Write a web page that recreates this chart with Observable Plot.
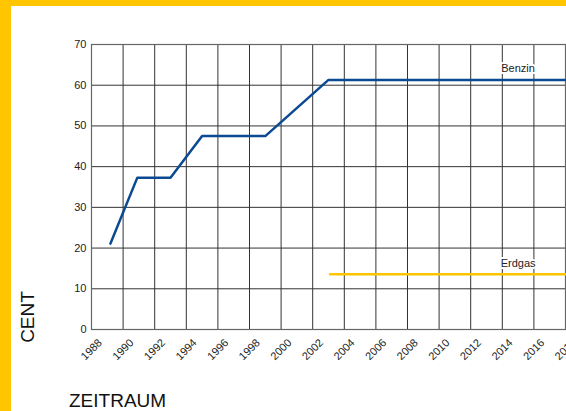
<!DOCTYPE html>
<html>
<head>
<meta charset="utf-8">
<script src="https://cdn.jsdelivr.net/npm/d3@7"></script>
<script src="https://cdn.jsdelivr.net/npm/@observablehq/plot@0.6"></script>
<style>
  html, body { margin: 0; padding: 0; background: #fff; }
  #wrap { position: relative; width: 566px; height: 411px; overflow: hidden; font-family: "Liberation Sans", Arial, sans-serif; }
  #top { position: absolute; left: 0; top: 0; width: 566px; height: 6px; background: #FFC600; }
  #left { position: absolute; left: 0; top: 0; width: 11px; height: 411px; background: #FFC600; }
  #chart { position: absolute; left: 0; top: 0; }
  #ylab { position: absolute; left: 28px; top: 317px; transform: translate(-50%, -50%) rotate(-90deg); font-size: 19px; color: #111; white-space: nowrap; }
  #xlab { position: absolute; left: 69px; top: 391px; font-size: 19px; color: #111; white-space: nowrap; line-height: 20px; }
</style>
</head>
<body>
<div id="wrap">
  <div id="chart"></div>
  <div id="top"></div>
  <div id="left"></div>
  <div id="ylab">CENT</div>
  <div id="xlab">ZEITRAUM</div>
</div>
<script>
// Data
const benzinYears = [1989.2, 1990.9, 1993.0, 1995.0, 1999.0, 2003.0, 2018.0];
const benzinCent  = [21.1, 37.3, 37.3, 47.5, 47.5, 61.3, 61.3];
const erdgasYears = [2003.1, 2018.0];
const erdgasCent  = [13.6, 13.6];
const xTickYears  = [1988, 1990, 1992, 1994, 1996, 1998, 2000, 2002, 2004, 2006, 2008, 2010, 2012, 2014, 2016, 2018];
const yTickValues = [0, 10, 20, 30, 40, 50, 60, 70];
const seriesNames = ["Benzin", "Erdgas"];
const labelYears  = [2015, 2015];
const labelValues = [61.3, 13.6];

const benzin = benzinYears.map((x, i) => ({x, y: benzinCent[i]}));
const erdgas = erdgasYears.map((x, i) => ({x, y: erdgasCent[i]}));
const labels = seriesNames.map((name, i) => ({name, x: labelYears[i], y: labelValues[i]}));

const chart = Plot.plot({
  width: 566,
  height: 411,
  marginLeft: 91,
  marginRight: 1,
  marginTop: 44,
  marginBottom: 82,
  style: { fontFamily: "'Liberation Sans', Arial, sans-serif", fontSize: "11px", color: "#222", background: "transparent" },
  x: { domain: [1988, 2018], ticks: xTickYears, tickFormat: d => String(d) },
  y: { domain: [0, 70], ticks: yTickValues },
  marks: [
    Plot.ruleX(xTickYears, { stroke: "#333", strokeWidth: 1 }),
    Plot.ruleY(yTickValues, { stroke: "#333", strokeWidth: 1 }),
    Plot.frame({ stroke: "#666", strokeWidth: 1.2 }),
    Plot.axisY({ ticks: yTickValues, tickSize: 0, tickPadding: 5, label: null, fontSize: 11 }),
    Plot.axisX({ ticks: xTickYears, tickSize: 0, tickPadding: 20, tickRotate: -45, textAnchor: "middle", lineAnchor: "middle", label: null, tickFormat: d => String(d), fontSize: 11 }),
    Plot.line(erdgas, { x: "x", y: "y", stroke: "#FFC600", strokeWidth: 2.5 }),
    Plot.line(benzin, { x: "x", y: "y", stroke: "#0B4A92", strokeWidth: 2.5 }),
    Plot.text(labels, { x: "x", y: "y", text: "name", dy: -11, fill: "#222", stroke: "white", strokeWidth: 4, fontSize: 11 })
  ]
});
document.getElementById("chart").appendChild(chart);
</script>
</body>
</html>
